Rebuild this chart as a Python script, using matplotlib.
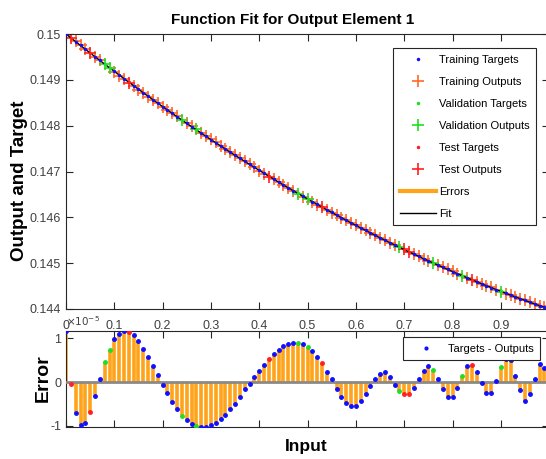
import matplotlib
matplotlib.use('Agg')
import matplotlib.pyplot as plt
import numpy as np

# input values 0..1 step 0.01
inputs = [i / 100 for i in range(101)]

targets = [
    0.150000, 0.149916, 0.149833, 0.149750, 0.149668, 0.149586, 0.149505, 0.149424, 0.149343, 0.149263,
    0.149184, 0.149105, 0.149027, 0.148949, 0.148871, 0.148794, 0.148717, 0.148641, 0.148566, 0.148491,
    0.148416, 0.148342, 0.148268, 0.148195, 0.148122, 0.148050, 0.147978, 0.147907, 0.147836, 0.147766,
    0.147696, 0.147627, 0.147558, 0.147489, 0.147421, 0.147354, 0.147287, 0.147221, 0.147155, 0.147089,
    0.147024, 0.146959, 0.146895, 0.146832, 0.146769, 0.146706, 0.146644, 0.146582, 0.146521, 0.146460,
    0.146400, 0.146340, 0.146281, 0.146222, 0.146164, 0.146106, 0.146049, 0.145992, 0.145935, 0.145879,
    0.145824, 0.145769, 0.145715, 0.145661, 0.145607, 0.145554, 0.145501, 0.145449, 0.145398, 0.145347,
    0.145296, 0.145246, 0.145196, 0.145147, 0.145098, 0.145050, 0.145002, 0.144955, 0.144908, 0.144862,
    0.144816, 0.144771, 0.144726, 0.144681, 0.144637, 0.144594, 0.144551, 0.144509, 0.144467, 0.144425,
    0.144384, 0.144343, 0.144303, 0.144264, 0.144225, 0.144186, 0.144148, 0.144110, 0.144073, 0.144036,
    0.144000,
]

# errors (targets - outputs) in units of 1e-5
errors = [
    1.17, -0.05, -0.72, -0.98, -0.93, -0.68, -0.32, 0.08, 0.45, 0.73,
    0.98, 1.11, 1.17, 1.15, 1.08, 0.94, 0.76, 0.58, 0.36, 0.16,
    -0.06, -0.26, -0.45, -0.62, -0.77, -0.88, -0.97, -1.01, -1.03, -1.03,
    -0.99, -0.93, -0.85, -0.75, -0.62, -0.50, -0.34, -0.17, -0.05, 0.11,
    0.26, 0.38, 0.52, 0.64, 0.74, 0.83, 0.88, 0.90, 0.90, 0.88,
    0.80, 0.71, 0.58, 0.44, 0.24, 0.06, -0.15, -0.34, -0.47, -0.56,
    -0.55, -0.44, -0.28, -0.10, 0.08, 0.18, 0.22, 0.11, -0.06, -0.20,
    -0.28, -0.27, -0.14, 0.08, 0.26, 0.36, 0.27, 0.07, -0.17, -0.35,
    -0.35, -0.14, 0.14, 0.37, 0.40, 0.23, -0.03, -0.24, -0.24, 0.03,
    0.34, 0.52, 0.50, 0.14, -0.18, -0.43, -0.27, 0.08, 0.42, 0.32,
    0.05,
]

val_idx = [8, 9, 24, 27, 48, 50, 69, 76, 82, 90]
test_idx = [1, 5, 13, 42, 53, 70, 71, 84]

x = np.array(inputs)
t = np.array(targets)
e = np.array(errors)
o = t - e * 1e-5

train_idx = [i for i in range(len(x)) if i not in val_idx and i not in test_idx]

plt.rcParams['font.family'] = ['Liberation Sans', 'DejaVu Sans']

c_train = '#FF6A2A'
c_val = '#22DD22'
c_test = '#FF2020'
c_err = '#FFA31A'

fig = plt.figure(figsize=(5.46, 4.59), dpi=100)
ax1 = fig.add_axes([0.1209, 0.3268, 0.885, 0.5991])
ax2 = fig.add_axes([0.1209, 0.0697, 0.885, 0.2092])

# top: function fit
h_tt, = ax1.plot(x[train_idx], t[train_idx], '.', color='#1010FF', ms=3, zorder=4)
h_to, = ax1.plot(x[train_idx], o[train_idx], '+', color=c_train, ms=9, mew=1.2, zorder=2)
h_vt, = ax1.plot(x[val_idx], t[val_idx], '.', color=c_val, ms=3, zorder=4)
h_vo, = ax1.plot(x[val_idx], o[val_idx], '+', color=c_val, ms=9, mew=1.2, zorder=2)
h_st, = ax1.plot(x[test_idx], t[test_idx], '.', color=c_test, ms=3, zorder=4)
h_so, = ax1.plot(x[test_idx], o[test_idx], '+', color=c_test, ms=9, mew=1.2, zorder=2)
h_err, = ax1.plot([], [], color=c_err, lw=3)
h_fit, = ax1.plot(x, t, color='black', lw=1, zorder=3)

ax1.set_xlim(0, 1)
ax1.set_ylim(0.144, 0.15)
ax1.set_xticks(np.arange(0, 1.01, 0.1))
ax1.set_xticklabels(['0', '0.1', '0.2', '0.3', '0.4', '0.5', '0.6', '0.7', '0.8', '0.9', '1'])
ax1.set_yticks([0.144, 0.145, 0.146, 0.147, 0.148, 0.149, 0.15])
ax1.set_yticklabels(['0.144', '0.145', '0.146', '0.147', '0.148', '0.149', '0.15'])
ax1.tick_params(direction='in', top=True, right=True, length=5, labelsize=9,
                colors='#262626', labelcolor='#404040')
ax1.tick_params(axis='x', pad=8)

leg = ax1.legend([h_tt, h_to, h_vt, h_vo, h_st, h_so, h_err, h_fit],
                 ['Training Targets', 'Training Outputs', 'Validation Targets',
                  'Validation Outputs', 'Test Targets', 'Test Outputs', 'Errors', 'Fit'],
                 loc='upper left', bbox_to_anchor=(393 / 546, 1 - 48 / 459),
                 bbox_transform=fig.transFigure, fontsize=8, handlelength=3.3,
                 handletextpad=0.25, labelspacing=1.08, borderpad=0.6, borderaxespad=0,
                 fancybox=False, edgecolor='#262626', framealpha=1, markerscale=1.0)
leg.get_frame().set_linewidth(0.8)

# bottom: errors as stems
ax2.vlines(x, 0, e, color=c_err, lw=2.6, zorder=2)
ax2.axhline(0, color='#8a8a8a', lw=2, zorder=3)
h_e, = ax2.plot(x[train_idx], e[train_idx], '.', color='#1010FF', ms=5, zorder=4)
ax2.plot(x[val_idx], e[val_idx], '.', color=c_val, ms=5, zorder=4)
ax2.plot(x[test_idx], e[test_idx], '.', color=c_test, ms=5, zorder=4)
ax2.set_xlim(0, 1)
ax2.set_ylim(e.min(), e.max())
ax2.set_xticks(np.arange(0, 1.01, 0.1))
ax2.set_xticklabels([])
ax2.set_yticks([-1, 0, 1])
ax2.set_yticklabels(['-1', '0', '1'])
ax2.tick_params(direction='in', top=True, right=True, length=5, labelsize=9,
                colors='#262626', labelcolor='#404040')
ax2.text(0.0, 1.03, r'$\times10^{-5}$', transform=ax2.transAxes, fontsize=7.5,
         color='#404040', ha='left', va='bottom')
leg2 = ax2.legend([h_e], ['Targets - Outputs'], loc='upper left',
                  bbox_to_anchor=(403 / 546, 1 - 337 / 459), bbox_transform=fig.transFigure,
                  fontsize=8, handlelength=3.0, handletextpad=0.45, borderpad=0.6,
                  borderaxespad=0, fancybox=False, edgecolor='#262626', framealpha=1,
                  markerscale=0.8)
leg2.get_frame().set_linewidth(0.8)

for ax in (ax1, ax2):
    for s in ax.spines.values():
        s.set_color('#262626')
        s.set_linewidth(0.8)

fig.text(293 / 546, 1 - 20 / 459, 'Function Fit for Output Element 1',
         ha='center', va='center', fontsize=11, fontweight='bold')
fig.text(20 / 546, 1 - 181 / 459, 'Output and Target', rotation=90, ha='center', va='center',
         fontsize=13.5, fontweight='bold')
fig.text(43 / 546, 1 - 378 / 459, 'Error', rotation=90, ha='center', va='center',
         fontsize=14, fontweight='bold')
fig.text(306 / 546, 1 - 446 / 459, 'Input', ha='center', va='center',
         fontsize=12.5, fontweight='bold')

fig.savefig('out.png', dpi=100)
